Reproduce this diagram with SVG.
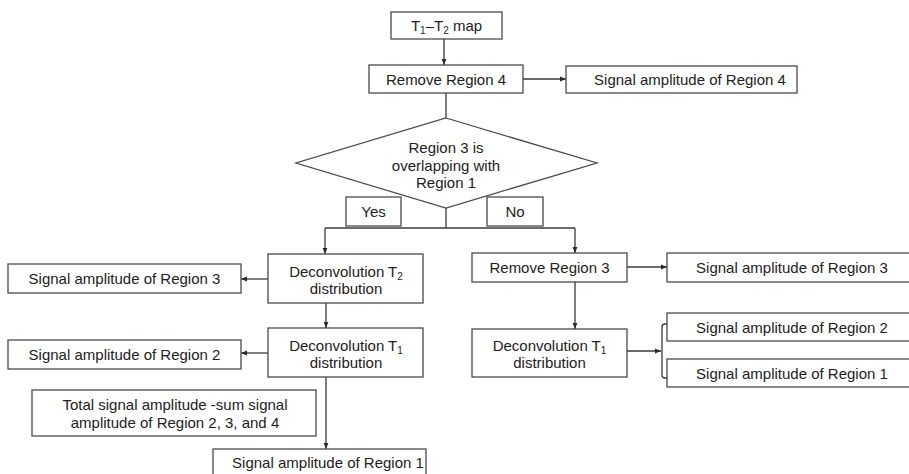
<svg xmlns="http://www.w3.org/2000/svg" width="909" height="474" viewBox="0 0 909 474">
<defs>
<style>
.b{fill:#fff;stroke:#4a4a4a;stroke-width:1.3}
.t{font-family:"Liberation Sans",Arial,sans-serif;font-size:15px;fill:#222;text-anchor:middle}
.c{fill:none;stroke:#3a3a3a;stroke-width:1.3}
.s{font-size:10px}
</style>
<marker id="a" viewBox="0 0 10 10" refX="10" refY="5" markerWidth="6" markerHeight="6" orient="auto" markerUnits="userSpaceOnUse">
<path d="M0,1 L10,5 L0,9 z" fill="#2a2a2a"/>
</marker>
</defs>
<rect width="909" height="474" fill="#fff"/>
<g id="connectors">
<path class="c" d="M444,39 V65" marker-end="url(#a)"/>
<path class="c" d="M523,79 H566" marker-end="url(#a)"/>
<path class="c" d="M446,93 V118"/>
<path class="c" d="M446,208 V228"/>
<path class="c" d="M325,228 H575"/>
<path class="c" d="M325,228 V254" marker-end="url(#a)"/>
<path class="c" d="M575,228 V253" marker-end="url(#a)"/>
<path class="c" d="M268,279 H241" marker-end="url(#a)"/>
<path class="c" d="M326,303 V328" marker-end="url(#a)"/>
<path class="c" d="M268,353 H241" marker-end="url(#a)"/>
<path class="c" d="M326,377 V449" marker-end="url(#a)"/>
<path class="c" d="M627,267 H667" marker-end="url(#a)"/>
<path class="c" d="M575,282 V329" marker-end="url(#a)"/>
<path class="c" d="M627,351 H661" marker-end="url(#a)"/>
<path class="c" d="M667,324 H665 Q662,324 662,327 V375 Q662,378 665,378 H667"/>
</g>
<g id="map"><rect class="b" x="391" y="12" width="111" height="27"/>
<text class="t" x="446.5" y="31">T<tspan class="s" dy="3">1</tspan><tspan dy="-3">–T</tspan><tspan class="s" dy="3">2</tspan><tspan dy="-3"> map</tspan></text></g>
<g id="remove4"><rect class="b" x="369" y="65" width="154" height="28"/><text class="t" x="446" y="84.5">Remove Region 4</text></g>
<g id="sig4"><rect class="b" x="566" y="66" width="231" height="27"/><text class="t" x="690" y="84.5">Signal amplitude of Region 4</text></g>
<g id="decision"><polygon class="b" points="446,118 597,163 446,208 296,163"/>
<text class="t" x="446" y="153">Region 3 is</text><text class="t" x="446" y="170.5">overlapping with</text><text class="t" x="446" y="188">Region 1</text></g>
<g id="yes"><rect class="b" x="346" y="197" width="55" height="29"/><text class="t" x="373.5" y="216.5">Yes</text></g>
<g id="no"><rect class="b" x="487" y="197" width="56" height="29"/><text class="t" x="515" y="216.5">No</text></g>
<g id="deconvT2"><rect class="b" x="268" y="254" width="155" height="49"/>
<text class="t" x="346" y="277">Deconvolution T<tspan class="s" dy="3">2</tspan></text><text class="t" x="346" y="294">distribution</text></g>
<g id="sig3left"><rect class="b" x="8" y="264" width="233" height="29"/><text class="t" x="124.5" y="284">Signal amplitude of Region 3</text></g>
<g id="deconvT1left"><rect class="b" x="268" y="328" width="155" height="49"/>
<text class="t" x="346" y="351">Deconvolution T<tspan class="s" dy="3">1</tspan></text><text class="t" x="346" y="368">distribution</text></g>
<g id="sig2left"><rect class="b" x="8" y="340" width="233" height="29"/><text class="t" x="124.5" y="360">Signal amplitude of Region 2</text></g>
<g id="total"><rect class="b" x="32" y="390" width="284" height="46"/>
<text class="t" x="175" y="410">Total signal amplitude -sum signal</text><text class="t" x="175" y="428">amplitude of Region 2, 3, and 4</text></g>
<g id="sig1bottom"><rect class="b" x="213" y="449" width="213" height="30"/><text class="t" x="328" y="468">Signal amplitude of Region 1</text></g>
<g id="remove3"><rect class="b" x="472" y="253" width="155" height="29"/><text class="t" x="549.5" y="272.5">Remove Region 3</text></g>
<g id="sig3right"><rect class="b" x="667" y="253" width="250" height="29"/><text class="t" x="792" y="272.5">Signal amplitude of Region 3</text></g>
<g id="deconvT1right"><rect class="b" x="472" y="329" width="155" height="48"/>
<text class="t" x="549.5" y="351">Deconvolution T<tspan class="s" dy="3">1</tspan></text><text class="t" x="549.5" y="368">distribution</text></g>
<g id="sig2right"><rect class="b" x="667" y="313" width="250" height="28"/><text class="t" x="792" y="332.5">Signal amplitude of Region 2</text></g>
<g id="sig1right"><rect class="b" x="667" y="359" width="250" height="28"/><text class="t" x="792" y="378.5">Signal amplitude of Region 1</text></g>
</svg>
